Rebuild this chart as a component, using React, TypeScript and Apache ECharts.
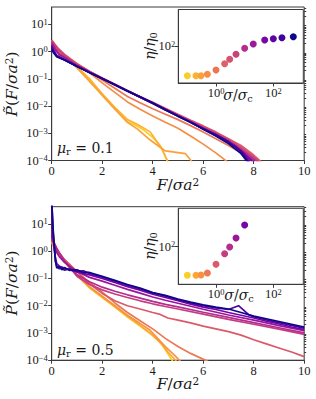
import React, { useEffect, useRef } from "react";
import * as echarts from "echarts";

// ---------- data ----------
const sigmaTop = [0.1, 0.2, 0.3, 0.5, 1, 2, 3, 5, 10, 20, 50, 100, 200, 500];
const sigmaBottom = [0.1, 0.2, 0.3, 0.5, 1, 2, 3, 5, 10, 20, 50];
const etaTop = [18.4, 18.4, 18.4, 20, 25.6, 36.7, 47.3, 63, 89, 114, 144, 155, 164, 174];
const etaBottom = [19.3, 19.3, 19.6, 22, 36.3, 66.8, 98, 165, 349];
const xTicks = [0, 2, 4, 6, 8, 10];
const yMajor = [1e-4, 1e-3, 1e-2, 1e-1, 1, 10];
const insetXTicks = [1, 100];
const insetYTicks = [100];

// [F, log10 P] for each sigma, top panel (mu_r = 0.1)
const topLogP: number[][][] = [
  [[0,0.38],[0.25,0.08],[0.5,-0.15],[1,-0.55],[1.5,-1.05],[2,-1.6],[2.5,-2.1],[3,-2.58],[3.3,-2.7],[3.6,-2.85],[4,-3.15],[4.3,-3.45],[4.6,-4.05]],
  [[0,0.35],[0.25,0.06],[0.5,-0.17],[1,-0.55],[1.5,-1.0],[2,-1.55],[2.5,-2.05],[3,-2.5],[3.4,-2.68],[3.9,-2.95],[4.35,-3.55],[4.6,-4.05]],
  [[0,0.32],[0.25,0.04],[0.5,-0.18],[1,-0.6],[1.5,-1.1],[2,-1.6],[2.5,-2.12],[3,-2.6],[3.4,-2.85],[3.9,-3.25],[4.5,-3.65],[5.3,-3.75],[5.6,-4.1]],
  [[0,0.3],[0.25,0.02],[0.5,-0.15],[1,-0.45],[1.5,-0.78],[2,-1.15],[2.5,-1.5],[3,-1.85],[3.5,-2.12],[4,-2.37],[4.5,-2.6],[5,-2.82],[5.5,-3.1],[6,-3.4],[6.5,-3.72],[7,-4.08]],
  [[0,0.35],[0.25,0.05],[0.5,-0.12],[1,-0.45],[1.5,-0.75],[2,-1.05],[2.5,-1.35],[3,-1.65],[3.5,-1.88],[4,-2.1],[4.5,-2.3],[5,-2.5],[5.5,-2.72],[6,-2.95],[6.5,-3.2],[7,-3.45],[7.5,-3.72],[8,-4.05]],
  [[0,0.42],[0.25,0.12],[0.5,-0.1],[1,-0.45],[1.5,-0.72],[2,-0.97],[2.5,-1.2],[3,-1.43],[3.5,-1.65],[4,-1.86],[4.5,-2.08],[5,-2.3],[5.5,-2.52],[6,-2.73],[6.5,-2.95],[7,-3.2],[7.5,-3.45],[8,-3.8],[8.3,-4.05]],
  [[0,0.4],[0.25,0.1],[0.5,-0.12],[1,-0.47],[1.5,-0.73],[2,-0.98],[2.5,-1.2],[3,-1.44],[3.5,-1.66],[4,-1.88],[4.5,-2.1],[5,-2.32],[5.5,-2.53],[6,-2.75],[6.5,-2.98],[7,-3.22],[7.5,-3.5],[8,-3.85],[8.25,-4.05]],
  [[0,0.38],[0.25,0.08],[0.5,-0.14],[1,-0.48],[1.5,-0.74],[2,-0.98],[2.5,-1.21],[3,-1.44],[3.5,-1.67],[4,-1.89],[4.5,-2.12],[5,-2.34],[5.5,-2.55],[6,-2.78],[6.5,-3.0],[7,-3.25],[7.5,-3.55],[8,-3.9],[8.2,-4.05]],
  [[0,0.35],[0.15,0.1],[0.3,-0.08],[0.5,-0.2],[1,-0.5],[1.5,-0.75],[2,-0.98],[2.5,-1.22],[3,-1.45],[3.5,-1.68],[4,-1.9],[4.5,-2.13],[5,-2.35],[5.5,-2.57],[6,-2.8],[6.5,-3.03],[7,-3.28],[7.5,-3.6],[8,-3.95],[8.15,-4.05]],
  [[0,0.3],[0.15,0.05],[0.3,-0.12],[0.5,-0.23],[1,-0.51],[1.5,-0.76],[2,-0.99],[2.5,-1.22],[3,-1.45],[3.5,-1.68],[4,-1.91],[4.5,-2.14],[5,-2.36],[5.5,-2.58],[6,-2.82],[6.5,-3.06],[7,-3.32],[7.5,-3.65],[8.05,-4.05]],
  [[0,0.22],[0.1,0.02],[0.2,-0.14],[0.5,-0.29],[1,-0.53],[1.5,-0.77],[2,-1.0],[2.5,-1.23],[3,-1.46],[3.5,-1.68],[4,-1.9],[4.5,-2.14],[5,-2.37],[5.5,-2.6],[6,-2.84],[6.5,-3.08],[6.9,-3.3],[7.2,-3.42],[7.6,-3.72],[7.95,-4.05]],
  [[0,0.18],[0.1,-0.02],[0.2,-0.17],[0.5,-0.3],[1,-0.54],[1.5,-0.77],[2,-0.99],[2.5,-1.22],[3,-1.45],[3.5,-1.67],[4,-1.89],[4.5,-2.13],[5,-2.37],[5.5,-2.6],[6,-2.84],[6.5,-3.07],[7,-3.35],[7.3,-3.5],[7.6,-3.8],[7.85,-4.05]],
  [[0,0.12],[0.1,-0.05],[0.2,-0.18],[0.5,-0.3],[1,-0.54],[1.5,-0.77],[2,-0.99],[2.5,-1.21],[3,-1.44],[3.5,-1.66],[4,-1.88],[4.5,-2.12],[5,-2.36],[5.5,-2.6],[6,-2.83],[6.5,-3.05],[7,-3.3],[7.25,-3.5],[7.5,-3.65],[7.8,-4.05]],
  [[0,0.06],[0.1,-0.08],[0.2,-0.19],[0.5,-0.31],[1,-0.55],[1.5,-0.78],[2,-1.0],[2.5,-1.22],[3,-1.45],[3.5,-1.67],[4,-1.9],[4.5,-2.15],[5,-2.38],[5.5,-2.6],[6,-2.85],[6.5,-3.1],[7,-3.38],[7.5,-3.75],[7.75,-4.05]],
];

// [F, log10 P] for each sigma, bottom panel (mu_r = 0.5)
const bottomLogP: number[][][] = [
  [[0,0.35],[0.1,0.2],[0.25,-0.05],[0.5,-0.38],[1,-0.9],[1.5,-1.35],[2,-1.7],[2.5,-2.05],[3,-2.42],[3.5,-2.75],[4,-3.1],[4.3,-3.35],[4.5,-3.62],[4.8,-4.05]],
  [[0,0.33],[0.1,0.18],[0.25,-0.06],[0.5,-0.38],[1,-0.88],[1.5,-1.33],[2,-1.68],[2.5,-2.02],[3,-2.38],[3.5,-2.72],[3.9,-3.0],[4.4,-3.45],[4.6,-3.7],[4.95,-4.05]],
  [[0,0.3],[0.1,0.16],[0.25,-0.07],[0.5,-0.38],[1,-0.88],[1.5,-1.3],[2,-1.65],[2.5,-2.0],[3,-2.35],[3.5,-2.65],[3.9,-2.9],[4.5,-3.5],[4.9,-3.85],[5.1,-4.05]],
  [[0,0.35],[0.1,0.2],[0.25,-0.05],[0.5,-0.3],[1,-0.75],[1.5,-1.15],[2,-1.5],[2.5,-1.9],[3,-2.25],[3.5,-2.55],[4,-2.85],[4.5,-3.2],[5,-3.5],[5.5,-3.75],[6.2,-4.05]],
  [[0,0.4],[0.1,0.28],[0.25,0.0],[0.5,-0.3],[1,-0.75],[1.5,-1.2],[2,-1.55],[2.5,-1.82],[3,-2.0],[3.5,-2.12],[4,-2.25],[4.3,-2.32],[4.6,-2.45],[5,-2.53],[5.5,-2.63],[6,-2.75],[6.5,-2.85],[7,-2.95],[7.5,-3.08],[8,-3.25],[8.5,-3.4],[9,-3.55],[9.5,-3.7],[10,-3.87]],
  [[0,0.45],[0.1,0.3],[0.25,0.0],[0.5,-0.35],[1,-0.92],[1.5,-1.22],[2,-1.42],[2.5,-1.57],[3,-1.7],[3.5,-1.82],[4,-1.93],[4.5,-2.03],[5,-2.12],[6,-2.31],[7,-2.5],[8,-2.68],[9,-2.86],[10,-3.05]],
  [[0,0.5],[0.1,0.3],[0.2,0.1],[0.5,-0.35],[0.75,-0.65],[1,-0.86],[1.5,-1.12],[2,-1.32],[2.5,-1.47],[3,-1.6],[3.5,-1.72],[4,-1.84],[4.5,-1.95],[5,-2.04],[6,-2.24],[7,-2.43],[8,-2.62],[9,-2.81],[10,-3.0]],
  [[0,0.8],[0.05,0.45],[0.1,0.25],[0.2,-0.05],[0.3,-0.2],[0.5,-0.4],[0.75,-0.58],[1,-0.74],[1.5,-0.96],[2,-1.1],[2.5,-1.25],[3,-1.4],[3.5,-1.54],[4,-1.68],[4.5,-1.8],[5,-1.91],[6,-2.13],[7,-2.34],[8,-2.53],[9,-2.73],[10,-2.92]],
  [[0,1.7],[0.05,0.6],[0.1,0.1],[0.15,-0.25],[0.2,-0.45],[0.3,-0.55],[0.5,-0.62],[0.7,-0.68],[1,-0.76],[1.5,-0.87],[2,-1.0],[2.5,-1.15],[3,-1.3],[3.5,-1.43],[4,-1.58],[4.5,-1.7],[5,-1.82],[5.5,-1.94],[6,-2.05],[6.5,-2.14],[7,-2.25],[7.5,-2.35],[8,-2.45],[8.5,-2.57],[9,-2.67],[9.5,-2.78],[10,-2.88]],
  [[0,1.9],[0.05,0.8],[0.1,0.15],[0.15,-0.4],[0.2,-0.55],[0.3,-0.65],[0.4,-0.58],[0.5,-0.7],[0.7,-0.65],[1,-0.74],[1.25,-0.72],[1.5,-0.82],[2,-0.95],[2.5,-1.1],[3,-1.25],[3.5,-1.38],[4,-1.53],[4.5,-1.65],[5,-1.78],[5.5,-1.9],[6,-2.0],[6.5,-2.08],[7,-2.14],[7.4,-2.0],[7.8,-2.33],[8,-2.4],[8.5,-2.52],[9,-2.62],[9.5,-2.72],[10,-2.82]],
  [[0,1.9],[0.05,0.9],[0.1,0.25],[0.15,-0.35],[0.2,-0.62],[0.3,-0.55],[0.4,-0.68],[0.5,-0.6],[0.7,-0.7],[1,-0.68],[1.25,-0.78],[1.5,-0.78],[2,-0.92],[2.5,-1.07],[3,-1.22],[3.5,-1.35],[4,-1.52],[4.5,-1.62],[5,-1.76],[5.5,-1.87],[6,-1.97],[6.5,-2.05],[7,-2.12],[7.5,-2.25],[8,-2.38],[8.5,-2.48],[9,-2.58],[9.5,-2.68],[10,-2.78]],
];

// ---------- styling ----------
const FONT = "'Liberation Serif', serif";
const MFONT = "'DejaVu Serif', serif";
const AX = "#3a3a3a";
const TXT = "#1a1a1a";
const plasmaStops = ["#0d0887", "#41049d", "#6a00a8", "#8f0da4", "#b12a90", "#cc4778", "#e16462", "#f2844b", "#fca636", "#fcce25", "#f0f921"];

function hexToRgb(h: string) {
  return [parseInt(h.slice(1, 3), 16), parseInt(h.slice(3, 5), 16), parseInt(h.slice(5, 7), 16)];
}
function plasma(t: number) {
  const x = Math.max(0, Math.min(1, t)) * 10;
  const i = Math.min(9, Math.floor(x));
  const f = x - i;
  const a = hexToRgb(plasmaStops[i]);
  const b = hexToRgb(plasmaStops[i + 1]);
  const c = a.map((v, k) => Math.round(v + (b[k] - v) * f));
  return `rgb(${c[0]},${c[1]},${c[2]})`;
}
function colorFor(sigma: number, sigmas: number[]) {
  const lo = Math.log(sigmas[0]), hi = Math.log(sigmas[sigmas.length - 1]);
  return plasma((0.9 * (hi - Math.log(sigma))) / (hi - lo));
}

const supRich = {
  s: { fontSize: 8.5, fontFamily: FONT, color: TXT, verticalAlign: "top", padding: [0, 0, 5, 0] },
};
function expLabel(v: number) {
  const e = Math.round(Math.log10(v));
  return "10{s|" + (e < 0 ? "\u2212" + -e : String(e)) + "}";
}

function minorValues(lo: number, hi: number) {
  const out: number[] = [];
  for (let n = -5; n <= 3; n++) {
    for (let k = 2; k <= 9; k++) {
      const v = k * Math.pow(10, n);
      if (v > lo && v < hi) out.push(v);
    }
  }
  return out;
}

const MAIN_MAX = 43;

function mainX(gridIndex: number) {
  return {
    type: "value", gridIndex, min: 0, max: 10, interval: 2,
    axisLine: { show: true, onZero: false, lineStyle: { color: AX, width: 1 } },
    axisTick: { show: true, length: 3.5, lineStyle: { color: AX } },
    axisLabel: { fontSize: 12.5, fontFamily: FONT, color: TXT, margin: 4, customValues: xTicks },
    splitLine: { show: false },
  };
}
function mainY(gridIndex: number) {
  return {
    type: "log", logBase: 10, gridIndex, min: 1e-4, max: MAIN_MAX,
    axisLine: { show: true, lineStyle: { color: AX, width: 1 } },
    axisTick: { show: true, length: 3.5, lineStyle: { color: AX }, customValues: yMajor },
    axisLabel: { fontSize: 12.5, fontFamily: FONT, color: TXT, margin: 4, customValues: yMajor, formatter: expLabel, rich: supRich },
    splitLine: { show: false },
  };
}
function minorY(gridIndex: number) {
  return {
    type: "log", logBase: 10, gridIndex, min: 1e-4, max: MAIN_MAX,
    axisLine: { show: false },
    axisTick: { show: true, length: 2, lineStyle: { color: AX }, customValues: minorValues(1e-4, MAIN_MAX) },
    axisLabel: { show: false },
    splitLine: { show: false },
  };
}
function insetX(gridIndex: number) {
  return {
    type: "log", logBase: 10, gridIndex, min: 0.0483, max: 1114,
    axisLine: { show: true, lineStyle: { color: AX, width: 1 } },
    axisTick: { show: true, length: 3.5, lineStyle: { color: AX }, customValues: insetXTicks },
    axisLabel: { fontSize: 12.5, fontFamily: FONT, color: TXT, margin: 3, customValues: insetXTicks, formatter: expLabel, rich: supRich },
    splitLine: { show: false },
  };
}
function insetY(gridIndex: number, min: number, max: number) {
  return {
    type: "log", logBase: 10, gridIndex, min, max,
    axisLine: { show: true, lineStyle: { color: AX, width: 1 } },
    axisTick: { show: true, length: 3.5, lineStyle: { color: AX }, customValues: insetYTicks },
    axisLabel: { fontSize: 12.5, fontFamily: FONT, color: TXT, margin: 3, customValues: insetYTicks, formatter: expLabel, rich: supRich },
    splitLine: { show: false },
  };
}

function makeRich(size: number) {
  return {
    i: { fontStyle: "italic", fontFamily: MFONT, fontSize: size, color: TXT },
    n: { fontFamily: MFONT, fontSize: size, color: TXT },
    sup: { fontFamily: MFONT, fontSize: size * 0.68, color: TXT, verticalAlign: "top", padding: [0, 0, 6, 0] },
    sub: { fontFamily: MFONT, fontSize: size * 0.7, color: TXT, verticalAlign: "bottom", padding: [6, 0, 0, 0] },
  };
}

function label(x: number, y: number, text: string, size: number, rotate = false, align = "center") {
  return {
    type: "text", x, y, rotation: rotate ? Math.PI / 2 : 0, silent: true,
    style: { text, rich: makeRich(size), fontFamily: MFONT, fontSize: size, fill: TXT, align, verticalAlign: "middle" },
  };
}

export default function App() {
  const ref = useRef<HTMLDivElement>(null);
  useEffect(() => {
    document.body.style.margin = "0";
    const chart = echarts.init(ref.current!, undefined, { renderer: "svg" });

    const lineSeries: any[] = [];
    topLogP.forEach((pts, k) => {
      lineSeries.push({
        type: "line", xAxisIndex: 0, yAxisIndex: 0, symbol: "none", silent: true, clip: true,
        lineStyle: { width: 1.7, color: colorFor(sigmaTop[k], sigmaTop) },
        data: pts.map(([f, lp]) => [f, Math.pow(10, lp)]),
      });
    });
    bottomLogP.forEach((pts, k) => {
      lineSeries.push({
        type: "line", xAxisIndex: 2, yAxisIndex: 3, symbol: "none", silent: true, clip: true,
        lineStyle: { width: 1.7, color: colorFor(sigmaBottom[k], sigmaBottom) },
        data: pts.map(([f, lp]) => [f, Math.pow(10, lp)]),
      });
    });
    const scatterTop = {
      type: "scatter", xAxisIndex: 1, yAxisIndex: 2, symbolSize: 7, silent: true,
      data: etaTop.map((e, k) => ({ value: [sigmaTop[k], e], itemStyle: { color: colorFor(sigmaTop[k], sigmaTop), opacity: 1 } })),
    };
    const scatterBottom = {
      type: "scatter", xAxisIndex: 3, yAxisIndex: 5, symbolSize: 7, silent: true,
      data: etaBottom.map((e, k) => ({ value: [sigmaBottom[k], e], itemStyle: { color: colorFor(sigmaBottom[k], sigmaBottom), opacity: 1 } })),
    };

    const yLab = "{i|P\u0303}{n|(}{i|F}{n|/}{i|σa}{sup|2}{n|)}";
    const xLab = "{i|F}{n|/}{i|σa}{sup|2}";
    const etaLab = "{i|η}{n|/}{i|η}{sub|0}";
    const sigLab = "{i|σ}{n|/}{i|σ}{sub|c}";

    chart.setOption({
      animation: false,
      backgroundColor: "#ffffff",
      grid: [
        { left: 51.7, top: 7, width: 252.5, height: 153.5, show: true, borderColor: AX, borderWidth: 1, backgroundColor: "transparent" },
        { left: 178.3, top: 9.5, width: 125, height: 73.5, show: true, borderColor: AX, borderWidth: 1, backgroundColor: "#ffffff" },
        { left: 51.7, top: 206.7, width: 252.5, height: 153.5, show: true, borderColor: AX, borderWidth: 1, backgroundColor: "transparent" },
        { left: 178.3, top: 208.3, width: 125, height: 76, show: true, borderColor: AX, borderWidth: 1, backgroundColor: "#ffffff" },
      ],
      xAxis: [mainX(0), insetX(1), mainX(2), insetX(3)],
      yAxis: [mainY(0), minorY(0), insetY(1, 12.1, 832), mainY(2), minorY(2), insetY(3, 11.5, 912)],
      series: [...lineSeries, scatterTop, scatterBottom],
      graphic: [
        label(12, 84, yLab, 15.5, true),
        label(178, 185, xLab, 15.5),
        label(57, 148, "{i|μ}{sub|r}{n| = 0.1}", 14, false, "left"),
        label(150, 46, etaLab, 14, true),
        label(238, 95, sigLab, 14),
        label(12, 283, yLab, 15.5, true),
        label(178, 384, xLab, 15.5),
        label(57, 350, "{i|μ}{sub|r}{n| = 0.5}", 14, false, "left"),
        label(150, 246, etaLab, 14, true),
        label(239, 295, sigLab, 14),
      ],
    });
    return () => chart.dispose();
  }, []);
  return <div ref={ref} style={{ width: 316, height: 399 }} />;
}
